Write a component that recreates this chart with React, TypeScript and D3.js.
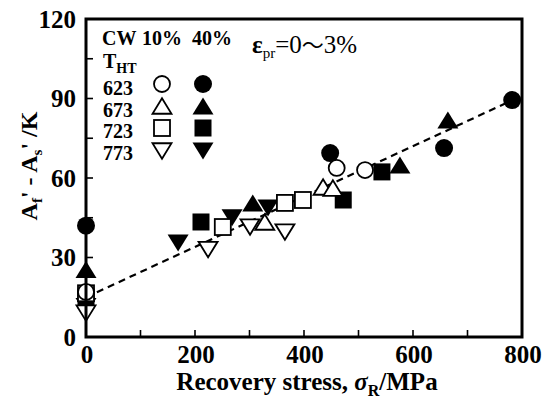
import React from "react";
import * as d3 from "d3";

const xTicks = [0, 200, 400, 600, 800];
const yTicks = [0, 30, 60, 90, 120];
const legendTemps = ["623", "673", "723", "773"];

// [recovery stress MPa, Af'-As' K]
const circleOpen: [number, number][] = [[0, 17], [460, 63.8], [512, 63]];
const circleFilled: [number, number][] = [[0, 42], [448, 69.4], [657, 71.3], [782, 89.4]];
const triUpOpen: [number, number][] = [[328, 43.4], [435, 56.6], [453, 56.2]];
const triUpFilled: [number, number][] = [[0, 25.5], [306, 50.6], [576, 64.9], [664, 81.9]];
const squareOpen: [number, number][] = [[0, 16.5], [251, 41.5], [365, 50.6], [398, 51.7]];
const squareFilled: [number, number][] = [[0, 14], [211, 43.4], [472, 51.7], [543, 62.3]];
const triDownOpen: [number, number][] = [[0, 9], [224, 33], [301, 41.5], [365, 39.6]];
const triDownFilled: [number, number][] = [[0, 11.5], [169, 35.5], [268, 45], [334, 48.7]];
const fitLine: [number, number][] = [[20, 16.9], [785, 89.6]];

const W = 551, H = 410;
const L = 86, R = 522, T = 19, B = 337;

const x = d3.scaleLinear().domain([0, 800]).range([L, R]);
const y = d3.scaleLinear().domain([0, 120]).range([B, T]);

type Shape = "circle" | "up" | "square" | "down";

function Marker({ shape, cx, cy, filled }: { shape: Shape; cx: number; cy: number; filled: boolean }) {
  const fill = filled ? "#000" : "#fff";
  const sw = filled ? 0 : 1.8;
  const common = { fill, stroke: "#000", strokeWidth: sw };
  if (shape === "circle") return <circle cx={cx} cy={cy} r={filled ? 9 : 8} {...common} />;
  if (shape === "square") {
    const s = filled ? 17 : 16;
    return <rect x={cx - s / 2} y={cy - s / 2} width={s} height={s} {...common} />;
  }
  const w = filled ? 21 : 19, h = filled ? 17 : 15.5;
  if (shape === "up")
    return <path d={`M${cx - w / 2},${cy + h / 2}L${cx + w / 2},${cy + h / 2}L${cx},${cy - h / 2}Z`} {...common} strokeLinejoin="miter" />;
  return <path d={`M${cx - w / 2},${cy - h / 2}L${cx + w / 2},${cy - h / 2}L${cx},${cy + h / 2}Z`} {...common} strokeLinejoin="miter" />;
}

const series: { data: [number, number][]; shape: Shape; filled: boolean }[] = [
  { data: circleFilled, shape: "circle", filled: true },
  { data: triUpFilled, shape: "up", filled: true },
  { data: squareFilled, shape: "square", filled: true },
  { data: triDownFilled, shape: "down", filled: true },
  { data: triDownOpen, shape: "down", filled: false },
  { data: squareOpen, shape: "square", filled: false },
  { data: triUpOpen, shape: "up", filled: false },
  { data: circleOpen, shape: "circle", filled: false },
];

const legendShapes: Shape[] = ["circle", "up", "square", "down"];

export default function App() {
  const line = d3.line<[number, number]>().x(d => x(d[0])).y(d => y(d[1]));
  const font = "'Liberation Serif', 'Times New Roman', serif";
  const xMinor = d3.range(0, 801, 100);
  const yMinor = d3.range(0, 121, 15);
  return (
    <svg width={W} height={H} style={{ position: "absolute", left: 0, top: 0, background: "#fff" }} fontFamily={font}>
      <rect width={W} height={H} fill="#fff" />
      {/* ticks */}
      {xMinor.map(v => (
        <line key={"xt" + v} x1={x(v)} x2={x(v)} y1={B} y2={B - 7} stroke="#000" strokeWidth={1.6} />
      ))}
      {yMinor.map(v => (
        <line key={"yt" + v} x1={L} x2={L + 7} y1={y(v)} y2={y(v)} stroke="#000" strokeWidth={1.6} />
      ))}
      {/* fit line */}
      <path d={line(fitLine) || ""} fill="none" stroke="#000" strokeWidth={2.2} strokeDasharray="7,5" />
      {/* points */}
      {series.map((s, i) =>
        s.data.map((d, j) => <Marker key={i + "-" + j} shape={s.shape} filled={s.filled} cx={x(d[0])} cy={y(d[1])} />)
      )}
      {/* frame */}
      <rect x={L} y={T} width={R - L} height={B - T} fill="none" stroke="#000" strokeWidth={3} />
      {/* tick labels */}
      {xTicks.map(v => (
        <text key={"xl" + v} x={x(v) + 1} y={B + 26} textAnchor="middle" fontSize={25} fontWeight="bold">{v}</text>
      ))}
      {yTicks.map(v => (
        <text key={"yl" + v} x={L - 10} y={y(v) + 8.5} textAnchor="end" fontSize={25} fontWeight="bold">{v}</text>
      ))}
      {/* axis titles */}
      <text x={(L + R) / 2 + 3} y={H - 20} textAnchor="middle" fontSize={25} fontWeight="bold">
        Recovery stress, <tspan fontStyle="italic">σ</tspan>
        <tspan fontSize={16} dy={6}>R</tspan>
        <tspan dy={-6}>/MPa</tspan>
      </text>
      <text transform={`translate(37,${(T + B) / 2 - 12}) rotate(-90)`} textAnchor="middle" fontSize={24} fontWeight="bold">
        A<tspan fontSize={15} dy={5}>f</tspan>
        <tspan dy={-5}>' - A</tspan>
        <tspan fontSize={15} dy={5}>s</tspan>
        <tspan dy={-5}>' /K</tspan>
      </text>
      {/* legend */}
      <text x={102} y={45} fontSize={20} fontWeight="bold">CW</text>
      <text x={142} y={45} fontSize={20} fontWeight="bold">10%</text>
      <text x={192} y={45} fontSize={20} fontWeight="bold">40%</text>
      <text x={103} y={68} fontSize={20} fontWeight="bold">
        T<tspan fontSize={14} dy={5}>HT</tspan>
      </text>
      {legendTemps.map((t, i) => (
        <g key={"lg" + t}>
          <text x={103} y={95 + i * 21.7} fontSize={20} fontWeight="bold">{t}</text>
          <Marker shape={legendShapes[i]} filled={false} cx={162} cy={[84, 106, 128, 151][i]} />
          <Marker shape={legendShapes[i]} filled={true} cx={203} cy={[84, 106, 128, 151][i]} />
        </g>
      ))}
      <text x={252} y={53} fontSize={25} fontFamily="'Liberation Serif', serif">
        <tspan fontWeight="bold">ε</tspan>
        <tspan fontSize={15} dy={5}>pr</tspan>
        <tspan dy={-5} fontFamily="'Liberation Serif', serif">=0</tspan>
        <tspan fontFamily="'Noto Sans CJK JP'" fontSize={22}>〜</tspan>
        <tspan fontFamily="'Liberation Serif', serif">3%</tspan>
      </text>
    </svg>
  );
}
